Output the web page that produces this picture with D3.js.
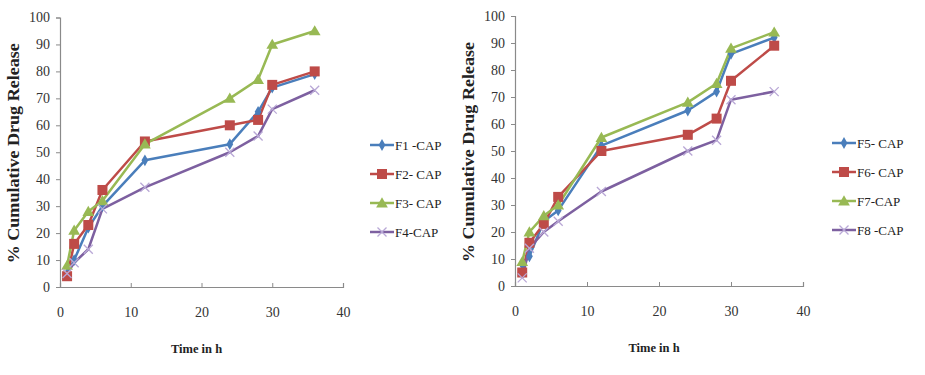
<!DOCTYPE html>
<html>
<head>
<meta charset="utf-8">
<script src="https://cdn.jsdelivr.net/npm/d3@7"></script>
<style>
  body { margin: 0; background: #fff; }
  text { font-family: "Liberation Serif", "Times New Roman", serif; fill: #222; }
  .tick text { font-size: 14px; fill: #333; }
  .axTitle { font-size: 12.5px; font-weight: bold; }
  .yTitle { font-size: 16px; font-weight: bold; }
  .legend { font-size: 13px; }
</style>
</head>
<body>
<div id="chart"></div>
<script>
const times = [1, 2, 4, 6, 12, 24, 28, 30, 36];
const xTicks = [0, 10, 20, 30, 40];
const yTicks = [0, 10, 20, 30, 40, 50, 60, 70, 80, 90, 100];

// left panel
const leftNames = ["F1 -CAP", "F2- CAP", "F3- CAP", "F4-CAP"];
const f1 = [5, 10, 22, 30, 47, 53, 65, 74, 79];
const f2 = [4, 16, 23, 36, 54, 60, 62, 75, 80];
const f3 = [8, 21, 28, 32, 53, 70, 77, 90, 95];
const f4 = [5, 9, 14, 29, 37, 50, 56, 66, 73];

// right panel
const rightNames = ["F5- CAP", "F6- CAP", "F7-CAP", "F8 -CAP"];
const f5 = [8, 11, 24, 28, 52, 65, 72, 86, 92];
const f6 = [5, 16, 23, 33, 50, 56, 62, 76, 89];
const f7 = [9, 20, 26, 30, 55, 68, 75, 88, 94];
const f8 = [3, 14, 20, 24, 35, 50, 54, 69, 72];

const colors = ["#4A7EBB", "#BE4B48", "#98B954", "#7D60A0"];
const shapes = ["diamond", "square", "triangle", "cross"];

const svg = d3.select("#chart").append("svg")
    .attr("width", 925)
    .attr("height", 375);

function marker(g, shape, color, x, y) {
    if (shape == "diamond") {
        g.append("path")
            .attr("d", d3.symbol(d3.symbolDiamond, 40)())
            .attr("transform", `translate(${x},${y})`)
            .attr("fill", color);
    } else if (shape == "square") {
        g.append("rect")
            .attr("x", x - 5).attr("y", y - 5)
            .attr("width", 10).attr("height", 10)
            .attr("fill", color);
    } else if (shape == "triangle") {
        g.append("path")
            .attr("d", d3.symbol(d3.symbolTriangle, 60)())
            .attr("transform", `translate(${x},${y + 1})`)
            .attr("fill", color);
    } else {
        g.append("path")
            .attr("d", `M${x - 4.5},${y - 4.5}L${x + 4.5},${y + 4.5}M${x - 4.5},${y + 4.5}L${x + 4.5},${y - 4.5}`)
            .attr("stroke", "#B9A8D6")
            .attr("stroke-width", 1.3)
            .attr("fill", "none");
    }
}

function panel(opt) {
    const g = svg.append("g");
    const x = d3.scaleLinear().domain([0, 40]).range([opt.x0, opt.x1]);
    const y = d3.scaleLinear().domain([0, 100]).range([opt.y0, opt.y1]);

    const xAxis = g.append("g")
        .attr("transform", `translate(0,${opt.y0})`)
        .call(d3.axisBottom(x).tickValues(xTicks).tickSize(-4).tickPadding(20));
    const yAxis = g.append("g")
        .attr("transform", `translate(${opt.x0},0)`)
        .call(d3.axisLeft(y).tickValues(yTicks).tickSize(4).tickPadding(6));
    [xAxis, yAxis].forEach(a => {
        a.select(".domain").attr("stroke", "#8a8a8a").attr("stroke-width", 1.2);
        a.selectAll(".tick line").attr("stroke", "#8a8a8a");
    });

    g.append("text")
        .attr("class", "axTitle")
        .attr("x", (opt.x0 + opt.x1) / 2 - 5)
        .attr("y", opt.y0 + 66)
        .attr("text-anchor", "middle")
        .text("Time in h");

    g.append("text")
        .attr("class", "yTitle")
        .attr("transform", `translate(${opt.ytx},${(opt.y0 + opt.y1) / 2 + 1}) rotate(-90)`)
        .attr("text-anchor", "middle")
        .attr("textLength", 220)
        .attr("lengthAdjust", "spacingAndGlyphs")
        .text("% Cumulative Drug Release");

    const line = d3.line()
        .x((d, i) => x(times[i]))
        .y(d => y(d));

    opt.series.forEach((s, k) => {
        g.append("path")
            .datum(s)
            .attr("d", line)
            .attr("fill", "none")
            .attr("stroke", colors[k])
            .attr("stroke-width", 2.5)
            .attr("stroke-linejoin", "round");
    });
    opt.series.forEach((s, k) => {
        s.forEach((v, i) => marker(g, shapes[k], colors[k], x(times[i]), y(v)));
    });

    // legend
    opt.names.forEach((n, k) => {
        const ly = opt.ly + k * 29;
        g.append("line")
            .attr("x1", opt.lx).attr("x2", opt.lx + 24)
            .attr("y1", ly).attr("y2", ly)
            .attr("stroke", colors[k])
            .attr("stroke-width", 2.5);
        marker(g, shapes[k], colors[k], opt.lx + 12, ly);
        g.append("text")
            .attr("class", "legend")
            .attr("x", opt.lx + 25)
            .attr("y", ly + 4.5)
            .text(n);
    });
}

panel({x0: 60, x1: 343, y0: 287, y1: 17.5, ytx: 19, lx: 370, ly: 145,
       names: leftNames, series: [f1, f2, f3, f4]});
panel({x0: 515, x1: 803, y0: 286, y1: 16, ytx: 474, lx: 832, ly: 143,
       names: rightNames, series: [f5, f6, f7, f8]});
</script>
</body>
</html>
